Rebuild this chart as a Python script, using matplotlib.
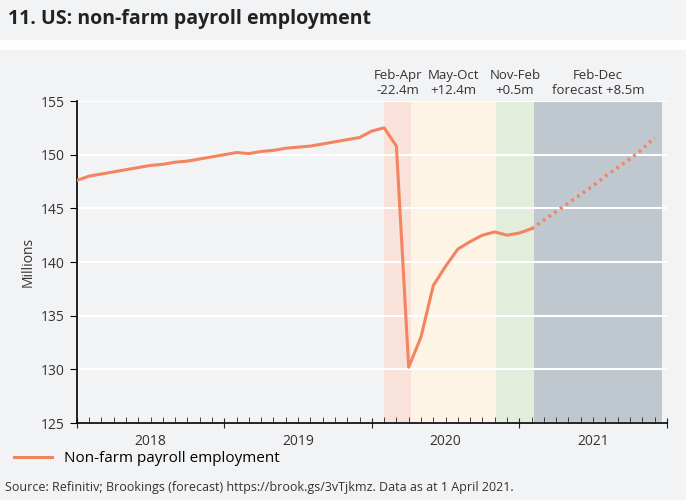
import matplotlib.pyplot as plt
import numpy as np

plt.rcParams['font.family'] = ['Open Sans', 'DejaVu Sans']

# monthly payrolls, Jan 2018 .. Feb 2021 (millions)
actual = [147.6, 148.0, 148.2, 148.4, 148.6, 148.8, 149.0, 149.1, 149.3, 149.4, 149.6, 149.8,
          150.0, 150.2, 150.1, 150.3, 150.4, 150.6, 150.7, 150.8, 151.0, 151.2, 151.4, 151.6,
          152.2, 152.5, 150.8, 130.2, 133.0, 137.8, 139.6, 141.2, 141.9, 142.5, 142.8, 142.5,
          142.7, 143.1]
# forecast Feb 2021 .. Dec 2021
forecast = [143.1, 143.9, 144.7, 145.5, 146.3, 147.1, 148.0, 148.8, 149.6, 150.5, 151.6]
years = ['2018', '2019', '2020', '2021']
periods = [('Feb-Apr\n-22.4m', 25, 27.2, '#f8e2da'),
           ('May-Oct\n+12.4m', 27.2, 34.1, '#fdf4e6'),
           ('Nov-Feb\n+0.5m', 34.1, 37.2, '#e2eedb'),
           ('Feb-Dec\nforecast +8.5m', 37.2, 47.6, '#c0c8cf')]

bg = '#f2f3f5'
fig = plt.figure(figsize=(6.86, 5.0), dpi=100, facecolor='white')
fig.patches.append(plt.Rectangle((0, 0.922), 1, 0.078, transform=fig.transFigure,
                                 color='#f2f3f5', zorder=-5))
fig.patches.append(plt.Rectangle((0, 0.0), 1, 0.9, transform=fig.transFigure,
                                 color=bg, zorder=-5))
fig.text(0.012, 0.962, '11. US: non-farm payroll employment', fontsize=14, fontweight='bold',
         va='center', color='#222222')

ax = fig.add_axes([0.112, 0.154, 0.86, 0.644])
ax.set_facecolor(bg)
for label, a, b, c in periods:
    ax.axvspan(a, b, color=c, zorder=0, lw=0)
    ax.text((a + b) / 2, 155.4, label, ha='center', va='bottom', fontsize=9.5, color='#333333')

ax.set_ylim(125, 155)
ax.set_xlim(0, 47.6)
ax.set_yticks(range(125, 156, 5))
ax.yaxis.grid(True, color='white', lw=1.5)
ax.set_axisbelow(True)
ax.plot(np.arange(len(actual)), actual, color='#f4845f', lw=2.2,
        label='Non-farm payroll employment', zorder=3)
ax.plot(np.arange(37, 37 + len(forecast)), forecast, color='#f4845f', lw=2.5,
        ls=(0, (0.8, 1.2)), zorder=3)

ax.set_xticks(np.arange(0, 49, 12))
ax.set_xticks(np.arange(0, 49, 1), minor=True)
ax.set_xticklabels([])
for i, y in enumerate(years):
    ax.text(i * 12 + 6, 124.0, y, ha='center', va='top', fontsize=10, color='#333333')
ax.tick_params(axis='x', which='major', length=7, color='#222222', direction='inout')
ax.tick_params(axis='x', which='minor', length=4, color='#222222', direction='in')
ax.tick_params(axis='y', length=5, labelsize=10, labelcolor='#333333', direction='out')
for s in ['top', 'right']:
    ax.spines[s].set_visible(False)
ax.spines['left'].set_linewidth(1.2)
ax.spines['bottom'].set_linewidth(1.2)
ax.set_ylabel('Millions', fontsize=10, color='#333333')

fig.legend(loc='lower left', bbox_to_anchor=(0.0, 0.04), frameon=False, fontsize=11,
           handlelength=2.5)
fig.text(0.008, 0.018, 'Source: Refinitiv; Brookings (forecast) https://brook.gs/3vTjkmz. Data as at 1 April 2021.',
         fontsize=9, color='#333333')

fig.savefig('out.png', dpi=100, facecolor=fig.get_facecolor())
